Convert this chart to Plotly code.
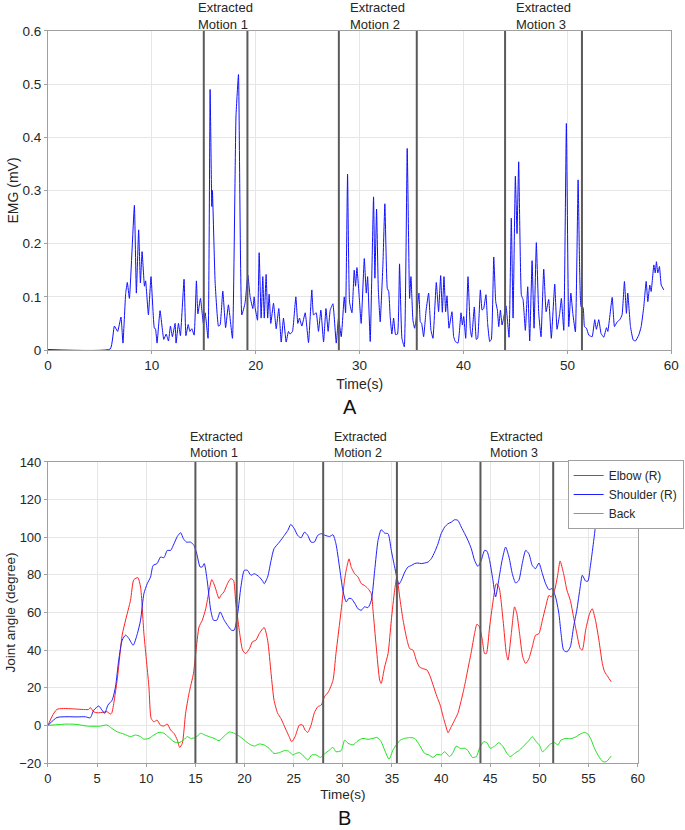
import plotly.graph_objects as go

# ---------------- Data: EMG (panel A) ----------------
emg_t = [0, 6.0, 6.39, 6.71, 7.03, 7.22, 7.48, 7.64, 7.84, 8.32, 8.51, 8.73, 8.9, 9.06, 9.29, 9.4,
         9.67, 9.92, 10.24, 10.35, 10.5, 10.79, 11.15, 11.38, 11.6, 11.79, 11.98, 12.24, 12.33, 12.56,
         12.75, 13.1, 13.28, 13.5, 13.66, 13.85, 14.07, 14.29, 14.43, 14.68, 14.96, 15.13, 15.41, 15.61,
         15.77, 15.83, 16.09, 16.41, 16.57, 16.83, 17.1, 17.37, 17.76, 18.1, 18.34, 18.66, 18.97, 19.24,
         19.46, 19.72, 19.85, 19.94, 20.17, 20.33, 20.52, 20.68, 20.82, 21.0, 21.15, 21.29, 21.45, 21.71,
         21.97, 22.22, 22.45, 22.67, 22.93, 23.15, 23.31, 23.54, 23.86, 24.05, 24.21, 24.44, 24.76, 25.08,
         25.4, 25.56, 25.82, 26.04, 26.27, 26.53, 26.76, 26.97, 27.17, 27.43, 27.75, 27.97, 28.23, 28.52,
         28.65, 28.84, 29.03, 29.26, 29.48, 29.61, 29.74, 29.96, 30.15, 30.45, 30.64, 30.77, 31.02, 31.34,
         31.47, 31.63, 31.8, 31.98, 32.24, 32.43, 32.66, 32.8, 32.94, 33.1, 33.27, 33.46, 33.65, 33.84,
         34.07, 34.3, 34.58, 34.81, 34.94, 35.13, 35.29, 35.42, 35.71, 35.84, 35.97, 36.16, 36.4, 36.64,
         36.86, 37.06, 37.38, 37.6, 37.8, 37.96, 38.12, 38.28, 38.41, 38.6, 38.89, 39.05, 39.21, 39.47,
         39.76, 39.89, 40.02, 40.21, 40.43, 40.66, 40.79, 41.04, 41.23, 41.36, 41.62, 41.79, 41.94, 42.16,
         42.32, 42.52, 42.68, 42.91, 43.1, 43.26, 43.39, 43.55, 43.71, 43.86, 44.09, 44.38, 44.6, 44.77,
         44.99, 45.15, 45.31, 45.57, 45.73, 45.95, 46.18, 46.37, 46.6, 46.79, 47.01, 47.24, 47.46, 47.72,
         47.95, 48.2, 48.45, 48.78, 49.0, 49.26, 49.42, 49.65, 49.9, 50.13, 50.33, 50.52, 50.77, 51.03,
         51.19, 51.32, 51.51, 51.64, 51.83, 52.06, 52.38, 52.63, 52.79, 53.02, 53.24, 53.5, 53.76, 53.89,
         54.31, 54.53, 54.79, 55.04, 55.26, 55.49, 55.68, 55.81, 56.07, 56.33, 56.55, 56.87, 57.1, 57.35,
         57.58, 57.74, 57.93, 58.06, 58.32, 58.45, 58.57, 58.7, 58.86, 59.03, 59.28]
emg_v = [0.001, 0.002, 0.045, 0.035, 0.062, 0.013, 0.106, 0.127, 0.097, 0.272, 0.107, 0.226, 0.126, 0.185, 0.12, 0.13,
         0.066, 0.138, 0.041, 0.04, 0.013, 0.074, 0.02, 0.03, 0.017, 0.045, 0.025, 0.05, 0.013, 0.05,
         0.027, 0.133, 0.027, 0.048, 0.035, 0.04, 0.028, 0.13, 0.068, 0.097, 0.05, 0.07, 0.022, 0.49,
         0.27, 0.30, 0.128, 0.045, 0.047, 0.111, 0.042, 0.085, 0.022, 0.44, 0.518, 0.066, 0.088, 0.141,
         0.1, 0.078, 0.1, 0.08, 0.056, 0.183, 0.06, 0.138, 0.06, 0.142, 0.06, 0.105, 0.05, 0.088,
         0.04, 0.078, 0.015, 0.06, 0.015, 0.035, 0.03, 0.035, 0.1, 0.05, 0.06, 0.045, 0.07, 0.014,
         0.113, 0.066, 0.07, 0.035, 0.075, 0.015, 0.078, 0.035, 0.075, 0.087, 0.013, 0.06, 0.025, 0.1,
         0.07, 0.331, 0.09, 0.07, 0.15, 0.12, 0.155, 0.1, 0.05, 0.172, 0.107, 0.138, 0.016, 0.288,
         0.135, 0.265, 0.113, 0.053, 0.16, 0.275, 0.116, 0.11, 0.063, 0.03, 0.06, 0.029, 0.03, 0.162,
         0.022, 0.006, 0.379, 0.097, 0.138, 0.056, 0.041, 0.055, 0.107, 0.053, 0.05, 0.025, 0.075, 0.107,
         0.038, 0.022, 0.127, 0.072, 0.14, 0.071, 0.138, 0.072, 0.102, 0.041, 0.072, 0.025, 0.016, 0.013,
         0.07, 0.047, 0.063, 0.022, 0.138, 0.038, 0.024, 0.081, 0.02, 0.022, 0.113, 0.075, 0.078, 0.104,
         0.05, 0.016, 0.02, 0.175, 0.091, 0.075, 0.044, 0.075, 0.047, 0.06, 0.083, 0.024, 0.248, 0.06,
         0.327, 0.219, 0.354, 0.103, 0.095, 0.037, 0.119, 0.017, 0.168, 0.041, 0.202, 0.069, 0.025, 0.152,
         0.072, 0.095, 0.022, 0.124, 0.039, 0.069, 0.097, 0.037, 0.426, 0.044, 0.107, 0.069, 0.034, 0.32,
         0.138, 0.081, 0.08, 0.044, 0.041, 0.028, 0.025, 0.057, 0.039, 0.057, 0.031, 0.024, 0.042, 0.035,
         0.099, 0.044, 0.053, 0.057, 0.066, 0.129, 0.069, 0.107, 0.044, 0.019, 0.017, 0.028, 0.044, 0.081,
         0.129, 0.091, 0.122, 0.11, 0.16, 0.145, 0.166, 0.145, 0.157, 0.122, 0.113]

# ---------------- Data: joint angles (panel B) ----------------
elbow_t = [0, 0.92, 4.15, 4.3, 4.66, 5.0, 5.7, 6.0, 6.36, 6.5, 7.04, 7.55, 7.9, 8.4, 8.74, 9.15, 9.42,
           9.76, 10.27, 10.5, 10.78, 11.1, 11.46, 11.8, 12.14, 12.48, 12.82, 13.16, 13.4, 13.67, 14.0,
           14.35, 14.8, 15.03, 15.37, 15.7, 16.05, 16.4, 16.67, 17.0, 17.4, 17.6, 17.9, 18.26, 18.6,
           18.88, 19.1, 19.46, 19.8, 20.1, 20.5, 20.8, 21.16, 21.5, 22.0, 22.35, 22.7, 23.0, 23.37,
           23.7, 24.05, 24.46, 24.8, 25.14, 25.58, 25.9, 26.16, 26.43, 26.77, 27.1, 27.45, 27.8, 28.13,
           28.54, 29.0, 29.3, 29.83, 30.17, 30.4, 30.63, 30.86, 31.2, 31.54, 31.88, 32.2, 32.56, 32.9,
           33.07, 33.4, 33.75, 33.9, 34.25, 34.6, 34.93, 35.27, 35.5, 35.78, 36.1, 36.46, 36.8, 37.14,
           37.47, 37.8, 38.15, 38.56, 38.9, 39.24, 39.58, 39.9, 40.25, 40.6, 40.7, 41.03, 41.37, 41.7,
           42.05, 42.4, 42.73, 43.07, 43.4, 43.64, 43.9, 44.19, 44.42, 44.6, 44.93, 45.27, 45.6, 45.88,
           46.3, 46.63, 46.8, 47.14, 47.47, 47.7, 47.98, 48.3, 48.6, 48.93, 49.27, 49.6, 49.95, 50.3,
           50.63, 50.97, 51.2, 51.54, 51.88, 52.1, 52.46, 52.8, 53.14, 53.47, 53.8, 54.15, 54.36, 54.7,
           55.1, 55.37, 55.7, 56.05, 56.4, 56.63, 56.97, 57.3]
elbow_v = [0, 8.5, 8.5, 9.5, 7.2, 6.7, 7.0, 7.3, 6.0, 6.7, 24, 48, 56, 66.5, 77.5, 78.5, 73.5,
           49, 20.5, 3.7, 1.9, 2.8, 0, -0.3, 0.7, -2.5, -4.2, -7.8, -11.7, -9.5, 6.4,
           17, 27.6, 38.2, 52.3, 55.9, 62, 71.8, 77.5, 73.6, 67.4, 69.1, 70.9, 75.3, 78,
           77.1, 65.6, 50.6, 40, 38.2, 40.8, 44.4, 45.3, 48.8, 52, 45.3, 27.6, 13.4, 6.4,
           3.7, -0.4, -5.1, -8.7, -6, 0.2, 0.2, -2.5, -3.7, 0.2, 6.7, 9.9, 10.8, 15.2,
           17.9, 24, 38.2, 61.2, 77.1, 84, 88.5, 84, 80.6, 78.9, 75.3, 74.4, 72.7, 70,
           61, 41.7, 24, 22.3, 31, 38.2, 55.9, 71.8, 78.9, 68.3, 56.8, 47, 40.8, 40,
           34.7, 31, 30.2, 29.4, 25.8, 20.5, 15.2, 10.8, 3.7, -2.5, -3.9, -0.7, 2.8, 6.4,
           13.4, 21.4, 30.2, 39.1, 48.8, 53.8, 52.3, 45.3, 38.2, 38.2, 52.3, 65.6, 75.3, 73.6,
           55.9, 38.2, 34.7, 48.8, 63, 59.4, 48.8, 36.4, 32.9, 35.5, 41.7, 47.9, 48.8, 55.9,
           63, 69.1, 68.3, 71.8, 80.6, 87.4, 80.6, 71.8, 66.5, 57.6, 48.8, 40.8, 40, 50.6,
           59.4, 62, 55.9, 45.3, 32.9, 28.5, 25.8, 23.2]

shoulder_t = [0, 0.92, 1.94, 2.96, 3.8, 4.3, 4.66, 5.17, 5.5, 5.78, 6.1, 6.53, 6.87, 7.2, 7.55, 7.9,
              8.23, 8.67, 9.1, 9.42, 9.76, 10.1, 10.44, 10.7, 11.1, 11.46, 11.8, 12.14, 12.48, 12.82,
              13.16, 13.5, 13.78, 14.1, 14.5, 14.86, 15.14, 15.48, 15.7, 15.9, 16.2, 16.56, 16.84, 17.18,
              17.52, 17.93, 18.27, 18.67, 18.95, 19.3, 19.63, 19.97, 20.3, 20.65, 21.0, 21.5, 21.84, 22.0,
              22.35, 22.7, 23.0, 23.54, 24.05, 24.4, 24.7, 25.07, 25.4, 25.75, 26.1, 26.43, 26.77, 27.1,
              27.45, 27.8, 28.2, 28.64, 29.0, 29.3, 29.66, 30.0, 30.34, 30.6, 30.86, 31.2, 31.54, 31.88,
              32.2, 32.56, 32.9, 33.24, 33.58, 33.9, 34.25, 34.6, 34.93, 35.27, 35.7, 35.95, 36.3, 36.63,
              36.97, 37.3, 37.64, 37.98, 38.32, 38.66, 39.0, 39.34, 39.68, 40.0, 40.36, 40.7, 41.03, 41.37,
              41.7, 42.05, 42.4, 42.73, 43.07, 43.4, 43.75, 44.08, 44.42, 44.66, 44.93, 45.27, 45.54, 45.88,
              46.2, 46.56, 46.9, 47.24, 47.58, 47.9, 48.25, 48.6, 48.93, 49.27, 49.6, 49.95, 50.3, 50.63,
              50.97, 51.3, 51.64, 51.98, 52.2, 52.46, 52.8, 53.14, 53.47, 53.8, 54.15, 54.36, 54.7, 54.93,
              55.17, 55.44, 55.78, 56.1, 56.46, 56.8, 57.2]
shoulder_v = [0, 4.2, 4.6, 4.5, 4.6, 4.0, 8.1, 10.3, 8.1, 6.4, 10.8, 13.4, 20.5, 34.7, 45.3, 48,
              46.2, 42.6, 48.8, 55.9, 70, 75.3, 78.9, 85, 86, 89.5, 89.1, 93, 93, 96.5,
              100.4, 102.4, 99.2, 97.4, 97.4, 95.7, 91.2, 84.2, 84.2, 86, 77, 61.2, 55.9, 55.9,
              60.3, 55.9, 53.2, 50.6, 50.6, 59.4, 73.6, 82.4, 82.4, 79.8, 80.6, 78.9, 76.7, 75.3,
              78.9, 87.7, 93.9, 97.4, 101, 103.6, 106.8, 104.5, 101, 99.7, 102.7, 101, 97.4, 97.4,
              101, 101.9, 101, 100.4, 101.3, 96.5, 84.2, 71.8, 65.6, 67.5, 67.4, 65, 62, 61.2,
              63, 62.6, 66.5, 82.4, 98.3, 104, 102.2, 101.9, 93, 84.2, 75, 77.1, 81.5, 84.2,
              85, 86, 86.3, 86, 86.3, 86.8, 88.6, 92.1, 96.5, 101.9, 105.4, 107.2, 108, 109.3,
              109, 105.4, 101.9, 98.3, 93.9, 87.7, 84.5, 87.7, 93, 92.6, 87.7, 77.1, 68.3, 78,
              87.7, 94.8, 89.5, 80.6, 75.7, 77.1, 86, 93, 91.2, 85, 83.3, 86.3, 80.6, 75.3,
              72.1, 72.7, 68.3, 59.4, 48.8, 40, 39.1, 41.7, 52.3, 61.2, 73.6, 79.8, 76.7, 76.7,
              84.2, 94.8, 109, 119.5, 130, 140, 148]

back_t = [0, 1.94, 2.96, 4.0, 5.34, 6.0, 6.5, 7.04, 7.72, 8.4, 8.9, 9.42, 9.76, 10.27, 10.78, 11.3,
          11.8, 12.3, 12.82, 13.33, 13.78, 14.18, 14.52, 15.03, 15.54, 15.95, 16.4, 16.9, 17.4, 17.93,
          18.44, 18.95, 19.46, 19.97, 20.48, 21.0, 21.5, 22.0, 22.5, 23.0, 23.54, 24.05, 24.46, 24.9,
          25.24, 25.58, 25.9, 26.43, 26.84, 27.28, 27.72, 28.13, 28.64, 29.0, 29.3, 29.83, 30.19, 30.53,
          31.03, 31.54, 32.05, 32.56, 33.07, 33.47, 33.9, 34.25, 34.7, 35.1, 35.5, 35.85, 36.3, 36.8,
          37.3, 37.8, 38.32, 38.76, 39.17, 39.58, 40.0, 40.36, 40.86, 41.2, 41.54, 41.95, 42.4, 42.73,
          43.17, 43.58, 43.9, 44.32, 44.66, 45.0, 45.44, 45.88, 46.3, 46.7, 47.03, 47.47, 47.98, 48.5,
          48.93, 49.27, 49.68, 50.0, 50.3, 50.7, 51.1, 51.54, 51.88, 52.2, 52.7, 53.2, 53.74, 54.15,
          54.6, 54.93, 55.27, 55.6, 56.05, 56.46, 56.8, 57.3]
back_v = [0, 0.7, 0.5, -0.4, -0.4, 0.2, -1.6, -3.4, -4.6, -6, -5.1, -6, -7.3, -6.9, -5.1, -3.7,
          -4.2, -6.4, -8.7, -9.2, -7.8, -6, -6.9, -6.4, -4.2, -5.1, -6, -6.9, -8.1, -5.7,
          -3.5, -4.2, -5.7, -7.8, -9.9, -11, -9.9, -10.4, -12.2, -14.9, -14.5, -13.4, -13.6, -15.7,
          -14.9, -14.5, -15.7, -18.4, -15.7, -15.7, -17, -15.2, -13.1, -11.7, -14, -13.4, -7.8, -9.5,
          -10.4, -8.1, -6.9, -7.4, -6.9, -6.4, -8.7, -13.1, -18, -13.1, -9.9, -7.8, -6.9, -6.5,
          -6.9, -10.4, -14.9, -15.7, -17, -15.4, -15.7, -14, -16.6, -14.5, -11, -12.2, -12.2, -13.4,
          -17, -16.6, -12.2, -8.7, -9.2, -12.2, -11, -9.2, -11.3, -14.9, -16.6, -14.9, -13.1, -10.4,
          -8.1, -6, -8.7, -10.4, -14, -12.2, -9.9, -9.2, -10.4, -7.8, -6.9, -7.1, -6, -4.6,
          -3.7, -4.6, -7.8, -12.2, -16.6, -19.3, -19.3, -16.3]

# Extracted motion boundaries (s) and labels
motion_bounds = [(15.0, 19.2), (28.0, 35.5), (44.0, 51.4)]
motion_labels = ["Extracted<br>Motion 1", "Extracted<br>Motion 2", "Extracted<br>Motion 3"]

series_names = ["Elbow (R)", "Shoulder (R)", "Back"]
series_colors = ["#ff2020", "#2020ff", "#20e020"]

FONT = "Liberation Sans, Arial, sans-serif"
TXT = "#262626"

fig = go.Figure()

fig.add_trace(go.Scatter(x=emg_t, y=emg_v, mode="lines",
                         line=dict(color="#1010ff", width=1, shape="spline", smoothing=0.35),
                         showlegend=False, xaxis="x", yaxis="y"))

for t, v, n, c in zip([elbow_t, shoulder_t, back_t], [elbow_v, shoulder_v, back_v], series_names, series_colors):
    fig.add_trace(go.Scatter(x=t, y=v, mode="lines", name=n,
                             line=dict(color=c, width=1, shape="spline", smoothing=0.6),
                             xaxis="x2", yaxis="y2"))

shapes = []
annots = []
for (a, b), lab in zip(motion_bounds, motion_labels):
    for xr, yr in (("x", "y domain"), ("x2", "y2 domain")):
        for xv in (a, b):
            shapes.append(dict(type="line", xref=xr, yref=yr, x0=xv, x1=xv, y0=0, y1=1,
                               line=dict(color="#5a5a5a", width=2), layer="above"))
    annots.append(dict(x=(a + b) / 2, y=1.0, xref="x", yref="y domain", text=lab, showarrow=False,
                       yanchor="bottom", align="left", font=dict(size=13, color=TXT, family=FONT), yshift=-3))
    annots.append(dict(x=(a + b) / 2, y=1.0, xref="x2", yref="y2 domain", text=lab, showarrow=False,
                       yanchor="bottom", align="left", font=dict(size=12.5, color=TXT, family=FONT), yshift=0))

annots.append(dict(x=0.511, y=1 - 407 / 830, xref="paper", yref="paper", text="A", showarrow=False,
                   yanchor="middle", font=dict(size=20, color="#111111", family=FONT)))
annots.append(dict(x=0.503, y=1 - 818 / 830, xref="paper", yref="paper", text="B", showarrow=False,
                   yanchor="middle", font=dict(size=20, color="#111111", family=FONT)))

axis_common = dict(showgrid=True, gridcolor="#e6e6e6", gridwidth=1, showline=True, linecolor="#a0a0a0",
                   linewidth=1, mirror=True, ticks="outside", ticklen=3, tickcolor="#a0a0a0",
                   zeroline=False, automargin=False, color=TXT)

fig.update_layout(
    width=685, height=830,
    margin=dict(l=0, r=0, t=0, b=0),
    paper_bgcolor="white", plot_bgcolor="white",
    font=dict(family=FONT, color=TXT),
    xaxis=dict(domain=[0.070, 0.980], range=[0, 60], dtick=10, anchor="y",
               tickfont=dict(size=13.5), title=dict(text="Time(s)", font=dict(size=14), standoff=6), **axis_common),
    yaxis=dict(domain=[0.5783, 0.9627], range=[0, 0.6], dtick=0.1, anchor="x", tickformat=".1~f",
               tickfont=dict(size=13.5), title=dict(text="EMG (mV)", font=dict(size=14), standoff=0), **axis_common),
    xaxis2=dict(domain=[0.070, 0.931], range=[0, 60], dtick=5, anchor="y2",
                tickfont=dict(size=13), title=dict(text="Time(s)", font=dict(size=13.5), standoff=4), **axis_common),
    yaxis2=dict(domain=[0.0807, 0.4434], range=[-20, 140], dtick=20, anchor="x2",
                tickfont=dict(size=13), title=dict(text="Joint angle (degree)", font=dict(size=13.5), standoff=0), **axis_common),
    shapes=shapes,
    annotations=annots,
    legend=dict(x=0.998, y=1 - 460 / 830, xanchor="right", yanchor="top", bgcolor="white",
                bordercolor="#a0a0a0", borderwidth=1, font=dict(size=12, color=TXT, family=FONT),
                itemwidth=30, tracegroupgap=0),
    showlegend=True,
)

fig.write_html("out.html", config={"displayModeBar": False},
               post_script="document.body.style.margin='0';document.body.style.overflow='hidden';")
